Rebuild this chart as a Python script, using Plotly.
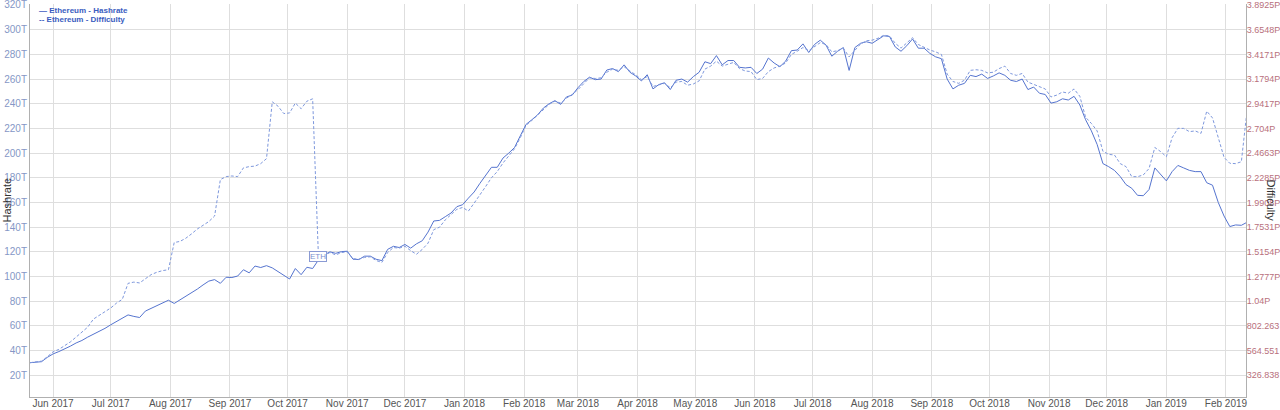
import pandas as pd
import plotly.graph_objects as go

# ---- data ----
start_date = "2017-05-20"
step = "3D"

hashrate_th = [
    30.2, 30.8, 31.0, 34.5, 37.3, 39.2, 41.3, 43.6, 46.2, 48.2,
    50.9, 53.3, 55.1, 58.0, 60.9, 63.8, 66.5, 68.9, 67.7, 66.8,
    72.0, 74.2, 76.3, 78.8, 80.8, 78.2, 81.0, 83.8, 86.8, 89.8,
    93.2, 96.3, 97.5, 94.5, 99.4, 99.2, 100.4, 105.5, 103.0, 108.5,
    107.3, 108.8, 107.0, 104.0, 100.5, 98.0, 106.5, 101.5, 107.5, 106.5,
    113.4, 117.5, 120.0, 118.8, 120.2, 120.5, 114.0, 113.8, 116.5, 116.5,
    114.0, 112.9, 122.0, 124.5, 123.5, 126.0, 123.0, 126.5, 129.0, 136.0,
    145.0, 145.5, 148.5, 151.5, 156.6, 158.2, 163.5, 168.5, 175.5, 182.0,
    188.5, 188.5, 196.0, 200.0, 204.5, 214.0, 223.3, 227.0, 231.0, 236.5,
    240.0, 242.5, 239.5, 245.5, 247.0, 253.0, 258.0, 261.5, 259.5, 260.0,
    267.3, 268.5, 266.0, 271.5, 265.5, 262.5, 258.5, 263.5, 252.0, 255.5,
    257.0, 251.5, 259.0, 260.0, 257.5, 262.0, 265.5, 274.0, 272.5, 279.0,
    271.5, 275.0, 275.0, 269.5, 269.0, 269.5, 264.5, 268.0, 277.0, 273.0,
    270.0, 274.5, 283.0, 283.5, 288.5, 281.5, 288.0, 291.5, 287.5, 278.5,
    282.5, 285.5, 267.0, 285.5, 289.0, 290.2, 289.0, 292.0, 295.0, 294.5,
    286.0, 282.5, 287.0, 292.5, 285.0, 285.0, 280.8, 278.0, 276.5, 260.0,
    252.0, 255.0, 256.5, 263.0, 262.0, 264.0, 260.5, 262.5, 265.0, 263.0,
    259.0, 258.0, 260.0, 251.5, 253.5, 248.5, 247.5, 240.5, 241.6, 244.0,
    243.0, 246.0, 239.0, 227.0, 218.0, 207.0, 191.5, 189.0, 186.0, 181.0,
    174.5, 171.5, 165.8, 165.5, 170.5, 188.0, 182.5, 177.5, 185.0, 190.0,
    188.0, 186.0, 185.0, 185.0, 176.0, 174.0, 160.0, 149.0, 140.5, 141.8,
    141.5, 144.0,
]

difficulty_p = [
    0.448, 0.458, 0.463, 0.505, 0.553, 0.576, 0.610, 0.648, 0.695, 0.743,
    0.790, 0.868, 0.906, 0.939, 0.975, 1.022, 1.058, 1.212, 1.224, 1.216,
    1.254, 1.296, 1.319, 1.335, 1.343, 1.605, 1.616, 1.646, 1.688, 1.735,
    1.771, 1.807, 1.860, 2.211, 2.240, 2.246, 2.240, 2.324, 2.336, 2.341,
    2.365, 2.413, 2.960, 2.918, 2.847, 2.853, 2.948, 2.894, 2.966, 2.989,
    1.474, 1.480, 1.509, 1.486, 1.509, 1.515, 1.450, 1.444, 1.462, 1.468,
    1.432, 1.414, 1.509, 1.557, 1.551, 1.569, 1.527, 1.492, 1.539, 1.599,
    1.729, 1.753, 1.824, 1.878, 1.925, 1.943, 1.908, 1.985, 2.062, 2.145,
    2.229, 2.288, 2.371, 2.443, 2.508, 2.615, 2.734, 2.781, 2.835, 2.888,
    2.936, 2.966, 2.948, 2.995, 3.031, 3.078, 3.138, 3.191, 3.185, 3.191,
    3.245, 3.275, 3.263, 3.298, 3.257, 3.221, 3.174, 3.203, 3.108, 3.120,
    3.138, 3.096, 3.150, 3.156, 3.120, 3.132, 3.162, 3.275, 3.304, 3.352,
    3.304, 3.322, 3.340, 3.280, 3.257, 3.251, 3.174, 3.185, 3.251, 3.286,
    3.304, 3.334, 3.417, 3.447, 3.483, 3.453, 3.489, 3.530, 3.512, 3.441,
    3.453, 3.477, 3.393, 3.459, 3.518, 3.548, 3.554, 3.572, 3.601, 3.595,
    3.524, 3.477, 3.530, 3.578, 3.512, 3.483, 3.459, 3.441, 3.417, 3.227,
    3.156, 3.138, 3.168, 3.263, 3.269, 3.263, 3.239, 3.245, 3.280, 3.304,
    3.233, 3.215, 3.233, 3.150, 3.126, 3.108, 3.084, 3.007, 3.025, 3.055,
    3.043, 3.084, 3.013, 2.811, 2.752, 2.680, 2.484, 2.454, 2.448, 2.365,
    2.336, 2.240, 2.239, 2.256, 2.318, 2.520, 2.481, 2.431, 2.615, 2.705,
    2.704, 2.673, 2.680, 2.656, 2.870, 2.805, 2.609, 2.425, 2.368, 2.365,
    2.383, 2.882,
]

left_ticks = [20, 40, 60, 80, 100, 120, 140, 160, 180, 200, 220, 240, 260, 280, 300, 320]
left_labels = [f"{v}T" for v in left_ticks]
right_ticks = [0.326838, 0.564551, 0.802263, 1.04, 1.2777, 1.5154, 1.7531, 1.9908,
               2.2285, 2.4663, 2.704, 2.9417, 3.1794, 3.4171, 3.6548, 3.8925]
right_labels = ["326.838", "564.551", "802.263", "1.04P", "1.2777P", "1.5154P",
                "1.7531P", "1.9908P", "2.2285P", "2.4663P", "2.704P", "2.9417P",
                "3.1794P", "3.4171P", "3.6548P", "3.8925P"]
month_ticks = pd.date_range("2017-06-01", "2019-02-01", freq="MS")
fork_index = 50  # difficulty reset point marked "ETH"

dates = pd.date_range(start_date, periods=len(hashrate_th), freq=step)

FONT = "Liberation Sans, Arial, sans-serif"
GRID = "#dedede"
AXIS = "#b0b0b0"

fig = go.Figure()
fig.add_trace(go.Scatter(
    x=dates, y=hashrate_th, mode="lines", name="Ethereum - Hashrate",
    line=dict(color="#5574cf", width=1), yaxis="y", showlegend=False,
))
fig.add_trace(go.Scatter(
    x=dates, y=difficulty_p, mode="lines", name="Ethereum - Difficulty",
    line=dict(color="#7e98dd", width=1, dash="3px,2px"), yaxis="y2", showlegend=False,
))

fig.update_layout(
    width=1280, height=410,
    margin=dict(l=30, r=34, t=4, b=13, autoexpand=False),
    paper_bgcolor="white", plot_bgcolor="white",
    font=dict(family=FONT, size=10, color="#555555"),
    xaxis=dict(
        type="date", automargin=False,
        range=["2017-05-20", "2019-02-11 10:00"],
        tickvals=month_ticks, tickformat="%b %Y",
        showgrid=True, gridcolor=GRID, gridwidth=1,
        showline=True, linecolor=AXIS, linewidth=1,
        ticks="", ticklen=0, tickfont=dict(size=10, color="#555555"),
        ticklabelstandoff=-3, ticklabeloverflow="allow",
        zeroline=False,
    ),
    yaxis=dict(
        automargin=False,
        range=[2.4, 320.8],
        tickvals=left_ticks, ticktext=left_labels,
        showgrid=True, gridcolor=GRID, gridwidth=1,
        showline=True, linecolor=AXIS, linewidth=1,
        ticks="", tickfont=dict(size=10, color="#8597c6"),
        ticklabeloverflow="allow",
        zeroline=False,
    ),
    yaxis2=dict(
        overlaying="y", side="right", automargin=False,
        range=[0.1176, 3.9021],
        tickvals=right_ticks, ticktext=right_labels,
        showgrid=False,
        showline=True, linecolor=AXIS, linewidth=1,
        ticks="", tickfont=dict(size=9, color="#b8707c"),
        ticklabelstandoff=-2, ticklabeloverflow="allow",
        zeroline=False,
    ),
)

# axis titles
fig.add_annotation(text="Hashrate", xref="paper", yref="paper", x=0, y=0.5,
                   xshift=-32, textangle=-90, showarrow=False,
                   font=dict(family=FONT, size=11, color="#333333"))
fig.add_annotation(text="Difficulty", xref="paper", yref="paper", x=1, y=0.5,
                   xshift=33, textangle=90, showarrow=False,
                   font=dict(family=FONT, size=11, color="#333333"))

# legend (top-left, inside)
fig.add_annotation(text="<b>— Ethereum - Hashrate</b>", xref="paper", yref="paper",
                   x=0, y=1, xanchor="left", yanchor="top", xshift=7, yshift=0,
                   showarrow=False, font=dict(family=FONT, size=8, color="#3a5cc0"))
fig.add_annotation(text="<b>-- Ethereum - Difficulty</b>", xref="paper", yref="paper",
                   x=0, y=1, xanchor="left", yanchor="top", xshift=7, yshift=-9,
                   showarrow=False, font=dict(family=FONT, size=8, color="#3a5cc0"))

# fork marker
fig.add_annotation(text="ETH", x=dates[fork_index], y=difficulty_p[fork_index],
                   xref="x", yref="y2", showarrow=False,
                   font=dict(family=FONT, size=8, color="#7d8fcf"),
                   bgcolor="white", bordercolor="#8a9ad4", borderwidth=1, borderpad=0)

fig.write_html(
    "out.html",
    config={"displayModeBar": False},
    post_script="document.body.style.margin='0';document.body.style.overflow='hidden';",
)
